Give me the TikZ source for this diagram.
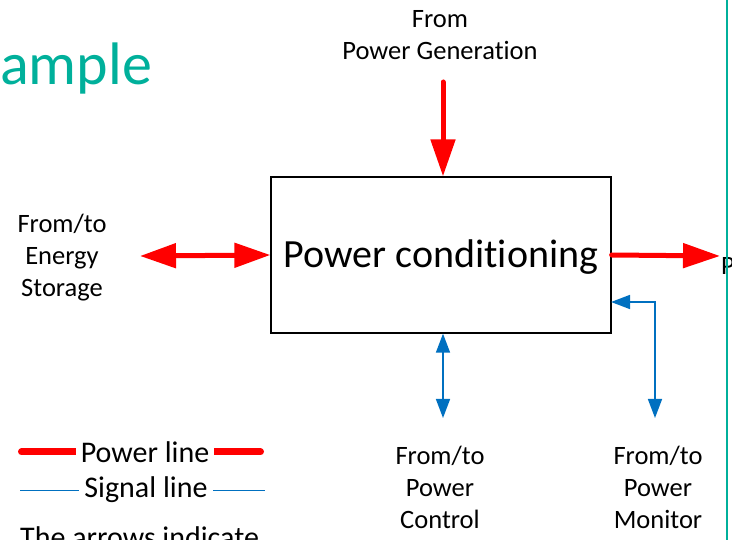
\documentclass[tikz,border=0pt]{standalone}
\usepackage{fontspec}
\setmainfont{Carlito}[RawFeature=-liga, RawFeature=-calt, RawFeature=-clig, RawFeature=-dlig]
\usepackage{xcolor}
\usetikzlibrary{arrows.meta}
\definecolor{powerred}{RGB}{255,0,0}
\definecolor{signalblue}{RGB}{0,112,192}
\definecolor{titleteal}{RGB}{0,176,155}

\begin{document}
\begin{tikzpicture}[x=1pt, y=-1pt,
  every node/.style={font=\fontsize{26.5}{32}\selectfont, align=center, inner sep=0pt},
  power/.style={draw=powerred, line width=5pt, line cap=round,
    -{Triangle[length=37pt,width=24pt]}},
  powerboth/.style={draw=powerred, line width=5pt,
    {Triangle[length=36pt,width=24pt]}-{Triangle[length=36pt,width=24pt]}},
  signalboth/.style={draw=signalblue, line width=1.5pt,
    {Triangle[length=19pt,width=14pt]}-{Triangle[length=19pt,width=14pt]}},
  legend/.style={font=\fontsize{30}{36}\selectfont, fill=white, inner xsep=5pt}]
  \useasboundingbox (0,0) rectangle (732,540);
  % title fragment, cut by the page edge
  \node[font=\fontsize{60}{72}\selectfont, text=titleteal, anchor=base west] (title) at (0,85) {ample};
  % main block
  \node[draw, line width=1.3pt, minimum width=340pt, minimum height=156pt,
    text height=34pt, text depth=8pt,
    font=\fontsize{40}{48}\selectfont] (cond) at (441,255) {Power conditioning};
  % labels round the block
  \node (gen) at (440,35) {From\\Power Generation};
  \node (store) at (62,258) {From/to\\Energy\\Storage};
  \node (ctrl) at (440,487) {From/to\\Power\\Control};
  \node (mon) at (658,487) {From/to\\Power\\Monitor};
  \node[anchor=base west] (load) at (721,275) {P};
  % free ends
  \coordinate (gen-out) at (443,82);
  \coordinate (store-out) at (140,256);
  \coordinate (load-in) at (720,256);
  \coordinate (ctrl-out) at (443,418);
  \coordinate (mon-out) at (655,418);
  \coordinate (mon-in) at (611,302);
  % power lines
  \draw[power] (gen-out) -- (gen-out |- cond.north);
  \draw[powerboth] (store-out) -- (cond.west);
  \draw[power] (cond.east) -- (load-in);
  % signal lines
  \draw[signalboth] (ctrl-out |- cond.south) -- (ctrl-out);
  \draw[signalboth] (mon-in) -| (mon-out);
  % legend
  \coordinate (pl-a) at (21.5,452);
  \coordinate (pl-b) at (260.5,452);
  \coordinate (sl-a) at (20,490);
  \coordinate (sl-b) at (265,490);
  \draw[powerred, line width=7pt, line cap=round] (pl-a) -- (pl-b);
  \node[legend] (pline) at (145,452) {Power line};
  \draw[signalblue, line width=1pt] (sl-a) -- (sl-b);
  \node[legend] (sline) at (146,490) {Signal line};
  \node[font=\fontsize{30}{36}\selectfont, anchor=base west] (note) at (20,547) {The arrows indicate};
  % slide edge
  \draw[titleteal, line width=1.5pt] (727,0) -- (727,540);
\end{tikzpicture}
\end{document}
